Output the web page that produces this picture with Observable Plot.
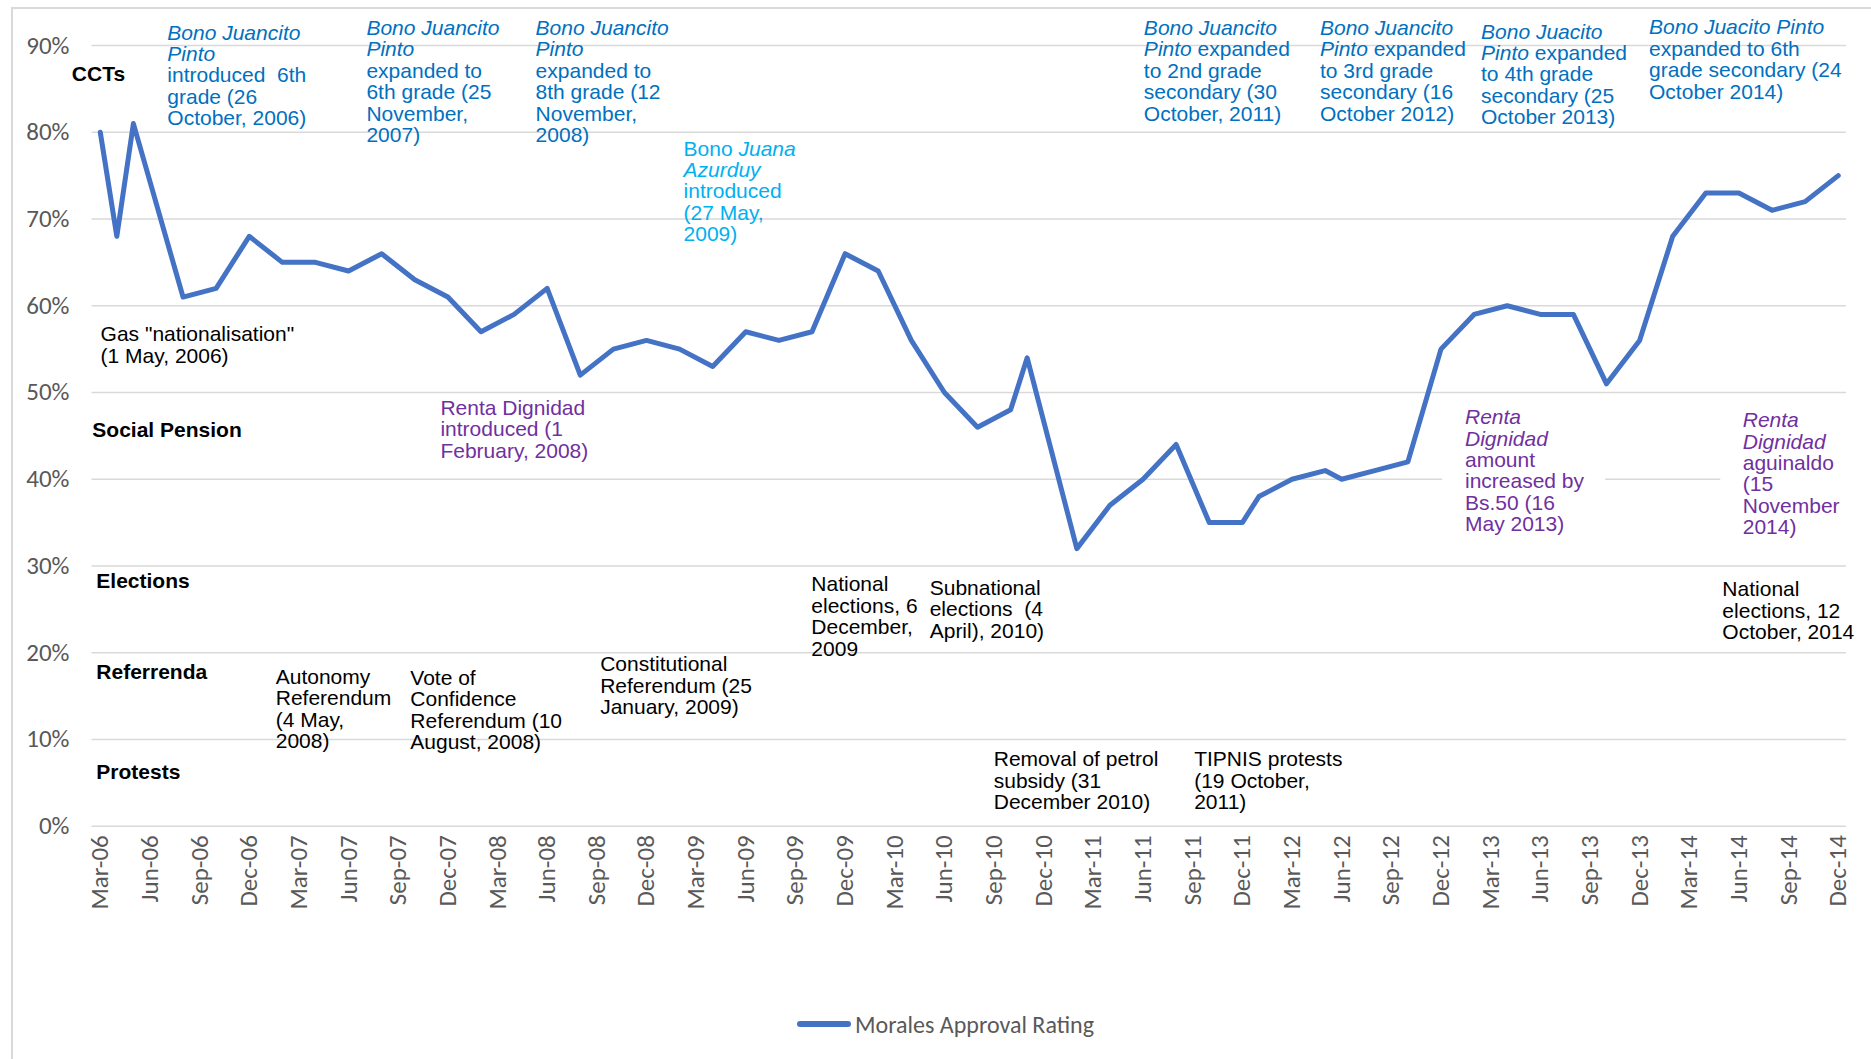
<!DOCTYPE html>
<html><head><meta charset="utf-8">
<script src="https://cdn.jsdelivr.net/npm/d3@7"></script>
<script src="https://cdn.jsdelivr.net/npm/@observablehq/plot@0.6"></script>
<style>
html,body{margin:0;padding:0;background:#fff;overflow:hidden}
#wrap{position:relative;width:1871px;height:1059px;overflow:hidden;background:#fff}
#border{position:absolute;left:11px;top:7px;width:1900px;height:1100px;border-top:2px solid #D9D9D9;border-left:2px solid #D9D9D9}
#chart{position:absolute;left:0;top:0}
#chart text{white-space:pre}
#legend{position:absolute;left:797px;top:1008px;height:32px;display:flex;align-items:center;font-family:Carlito,Lato,sans-serif;font-size:24px;color:#595959}
#legend .sw{display:inline-block;width:54px;height:6px;border-radius:3px;background:#4472C4;margin-right:4px}
</style></head><body>
<div id="wrap"><div id="border"></div><div id="chart"></div>
<div id="legend"><span class="sw"></span><span>Morales Approval Rating</span></div></div>
<script>
// ---- data ----
const months = ["Mar-06","Apr-06","May-06","Aug-06","Oct-06","Dec-06","Feb-07","Apr-07","Jun-07","Aug-07","Oct-07","Dec-07","Feb-08","Apr-08","Jun-08","Aug-08","Oct-08","Dec-08","Feb-09","Apr-09","Jun-09","Aug-09","Oct-09","Dec-09","Feb-10","Apr-10","Jun-10","Aug-10","Oct-10","Nov-10","Feb-11","Apr-11","Jun-11","Aug-11","Oct-11","Dec-11","Jan-12","Mar-12","May-12","Jun-12","Aug-12","Oct-12","Dec-12","Feb-13","Apr-13","Jun-13","Aug-13","Oct-13","Dec-13","Feb-14","Apr-14","Jun-14","Aug-14","Oct-14","Dec-14"];
const approval = [80,68,81,61,62,68,65,65,64,66,63,61,57,59,62,52,55,56,55,53,57,56,57,66,64,56,50,46,48,54,32,37,40,44,35,35,38,40,41,40,41,42,55,59,60,59,59,51,56,68,73,73,71,72,75];
const xTickLabels = ["Mar-06","Jun-06","Sep-06","Dec-06","Mar-07","Jun-07","Sep-07","Dec-07","Mar-08","Jun-08","Sep-08","Dec-08","Mar-09","Jun-09","Sep-09","Dec-09","Mar-10","Jun-10","Sep-10","Dec-10","Mar-11","Jun-11","Sep-11","Dec-11","Mar-12","Jun-12","Sep-12","Dec-12","Mar-13","Jun-13","Sep-13","Dec-13","Mar-14","Jun-14","Sep-14","Dec-14"];
const yTicks = [0,10,20,30,40,50,60,70,80,90];
const categoryLabels = ["CCTs","Social Pension","Elections","Referrenda","Protests"];
// annotation texts (_..._ = italic)
const cctNotes = [
  "_Bono Juancito_\n_Pinto_\nintroduced  6th\ngrade (26\nOctober, 2006)",
  "_Bono Juancito_\n_Pinto_\nexpanded to\n6th grade (25\nNovember,\n2007)",
  "_Bono Juancito_\n_Pinto_\nexpanded to\n8th grade (12\nNovember,\n2008)",
  "_Bono Juancito_\n_Pinto_ expanded\nto 2nd grade\nsecondary (30\nOctober, 2011)",
  "_Bono Juancito_\n_Pinto_ expanded\nto 3rd grade\nsecondary (16\nOctober 2012)",
  "_Bono Juacito_\n_Pinto_ expanded\nto 4th grade\nsecondary (25\nOctober 2013)",
  "_Bono Juacito Pinto_\nexpanded to 6th\ngrade secondary (24\nOctober 2014)"
];
const bjaNotes = ["Bono _Juana_\n_Azurduy_\nintroduced\n(27 May,\n2009)"];
const pensionNotes = [
  "Renta Dignidad\nintroduced (1\nFebruary, 2008)",
  "_Renta_\n_Dignidad_\namount\nincreased by\nBs.50 (16\nMay 2013)",
  "_Renta_\n_Dignidad_\naguinaldo\n(15\nNovember\n2014)"
];
const eventNotes = [
  "Gas \"nationalisation\"\n(1 May, 2006)",
  "Autonomy\nReferendum\n(4 May,\n2008)",
  "Vote of\nConfidence\nReferendum (10\nAugust, 2008)",
  "Constitutional\nReferendum (25\nJanuary, 2009)",
  "National\nelections, 6\nDecember,\n2009",
  "Subnational\nelections  (4\nApril), 2010)",
  "Removal of petrol\nsubsidy (31\nDecember 2010)",
  "TIPNIS protests\n(19 October,\n2011)",
  "National\nelections, 12\nOctober, 2014"
];

// ---- layout (data space: months since Mar-06, percent) ----
const cctAnchors = [[4.05,92.44],[16.08,92.98],[26.3,92.98],[63.05,92.98],[73.69,92.98],[83.42,92.55],[93.57,93.04]];
const bjaAnchors = [[35.24,79.06]];
const pensionAnchors = [[20.55,49.15],[82.45,48.09],[99.23,47.76]];
const eventAnchors = [[0.02,57.64],[10.6,18.17],[18.73,18.05],[30.2,19.6],[42.96,28.82],[50.11,28.43],[53.98,8.65],[66.09,8.65],[98.0,28.25]];
const categoryAnchors = [[-1.72,86.72],[-0.48,45.62],[-0.24,28.21],[-0.24,17.75],[-0.24,6.19]];
const noteBoxes = [[81.1,90.95,48.85,32.36],[97.9,105.5,48.5,32.36]];

const parse = d3.utcParse("%b-%y");
const idx = s => { const d = parse(s); return (d.getUTCFullYear()-2006)*12 + d.getUTCMonth() - 2; };
const series = months.map((m,i) => ({t: idx(m), v: approval[i]}));
const tickIdx = xTickLabels.map(idx);
const labelOf = new Map(tickIdx.map((t,i) => [t, xTickLabels[i]]));
const toNotes = (texts, anchors) => texts.map((text,i) => ({text, m: anchors[i][0], p: anchors[i][1]}));

const AX = "Carlito, Lato, sans-serif";
const TX = "'Liberation Sans', Arial, Helvetica, sans-serif";
const noteOpts = (fill) => ({x:"m", y:"p", text:"text", fill, textAnchor:"start", lineAnchor:"top", lineHeight:1.02, fontSize:21, fontFamily:TX});

const chart = Plot.plot({
  width: 1871, height: 960,
  marginLeft: 91.5, marginRight: 25, marginTop: 45, marginBottom: 134.3,
  style: {background: "transparent", fontFamily: AX},
  x: {type: "linear", domain: [-0.5, 105.5]},
  y: {domain: [0, 90]},
  marks: [
    Plot.gridY(yTicks, {stroke: "#D9D9D9", strokeOpacity: 1, strokeWidth: 1.6}),
    Plot.rect(noteBoxes, {x1: d => d[0], x2: d => d[1], y1: d => d[2], y2: d => d[3], fill: "white"}),
    Plot.axisY(yTicks, {tickSize: 0, tickPadding: 22.5, tickFormat: d => d + "%", fontSize: 25, fontFamily: AX, color: "#595959", label: null}),
    Plot.axisX(tickIdx, {tickSize: 0, tickPadding: 9, tickRotate: -90, tickFormat: t => labelOf.get(t), fontSize: 25, fontFamily: AX, color: "#595959", label: null}),
    Plot.line(series, {x: "t", y: "v", stroke: "#4472C4", strokeWidth: 5, strokeLinejoin: "round", strokeLinecap: "round"}),
    Plot.text(categoryLabels.map((text,i) => ({text, m: categoryAnchors[i][0], p: categoryAnchors[i][1]})),
      {x: "m", y: "p", text: "text", textAnchor: "start", lineAnchor: "middle", fontWeight: "bold", fontSize: 21, fontFamily: TX, fill: "#000"}),
    Plot.text(toNotes(cctNotes, cctAnchors), noteOpts("#0070C0")),
    Plot.text(toNotes(bjaNotes, bjaAnchors), noteOpts("#00B0F0")),
    Plot.text(toNotes(pensionNotes, pensionAnchors), noteOpts("#7030A0")),
    Plot.text(toNotes(eventNotes, eventAnchors), noteOpts("#000000"))
  ]
});

// italic segments marked with _..._
chart.querySelectorAll("text, tspan").forEach(el => {
  if (el.childNodes.length === 1 && el.firstChild.nodeType === 3 && el.textContent.includes("_")) {
    const parts = el.textContent.split("_");
    el.textContent = "";
    parts.forEach((s, i) => {
      if (!s) return;
      const t = document.createElementNS("http://www.w3.org/2000/svg", "tspan");
      if (i % 2) t.setAttribute("font-style", "italic");
      t.textContent = s;
      el.appendChild(t);
    });
  }
});
document.getElementById("chart").appendChild(chart);
</script>
</body></html>
